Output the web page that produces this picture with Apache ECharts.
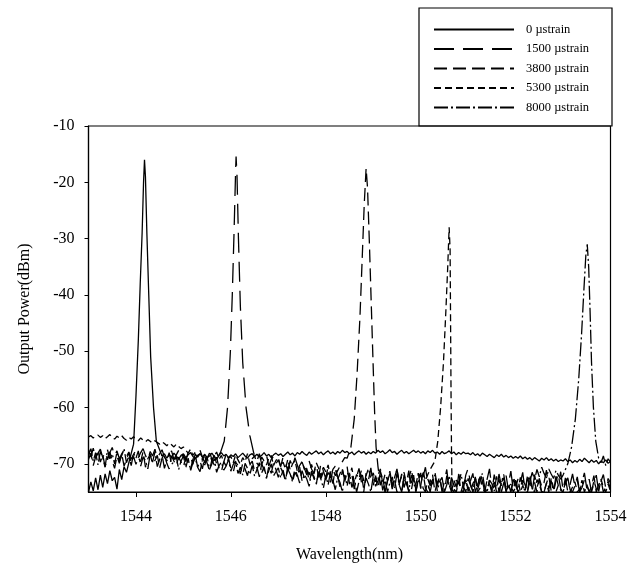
<!DOCTYPE html>
<html>
<head>
<meta charset="utf-8">
<style>
  html, body { margin: 0; padding: 0; width: 100%; height: 100%; overflow: hidden; background: #fff; }
</style>
<script src="https://cdn.jsdelivr.net/npm/echarts@6/dist/echarts.min.js"></script>
</head>
<body>
<div id="container" style="width:644px;height:565px;"></div>
<script>
// wavelength grid of the noise floor: 1543 .. 1554 nm, one value every 0.05 nm
const wlStart = 1543;
const wlStep = 0.05;

const names = ['0 \u00b5strain', '1500 \u00b5strain', '3800 \u00b5strain', '5300 \u00b5strain', '8000 \u00b5strain'];
const xTicks = [1544, 1546, 1548, 1550, 1552, 1554];
const yTicks = [-70, -60, -50, -40, -30, -20, -10];

// noise floors (dBm), 20 values per nm
const floor0 = [
  -75, -73.2, -74.8, -72.5, -74.6, -72.0, -74.2, -71.8, -73.5, -71.2, -73.0, -72.4, -74.5, -71.0, -72.8, -70.5, -71.5, -69.8, -70.2, -69.0,
  -68.5, -68.2, -68.0, -68.3, -68.0, -68.4, -68.0, -67.6, -68.2, -68.8, -68.0, -68.6, -68.2, -69.0, -68.4, -68.8, -68.1, -68.6, -69.2, -68.5,
  -68.2, -68.9, -68.4, -68.0, -68.7, -69.1, -68.5, -68.2, -68.8, -68.3, -68.9, -68.6, -68.1, -68.7, -69.2, -68.5, -68.0, -68.6, -68.3, -68.9,
  -68.4, -68.7, -68.2, -68.9, -68.5, -68.1, -68.6, -69.0, -68.4, -68.2, -68.7, -68.3, -68.8, -68.5, -68.0, -68.6, -68.3, -68.9, -68.4, -68.1,
  -68.5, -68.2, -68.7, -68.3, -67.9, -68.4, -68.1, -68.6, -68.0, -68.3, -67.8, -68.2, -68.5, -67.9, -68.3, -68.0, -67.7, -68.2, -67.9, -68.4,
  -68.0, -67.7, -68.2, -67.9, -68.3, -67.8, -68.1, -67.6, -68.0, -67.8, -68.2, -67.9, -68.4, -68.0, -67.7, -68.1, -67.8, -68.3, -67.9, -68.2,
  -67.8, -68.1, -67.6, -68.0, -67.7, -68.2, -67.9, -67.5, -68.0, -67.8, -68.3, -67.9, -67.6, -68.1, -67.8, -68.2, -67.9, -67.6, -68.0, -67.7,
  -68.1, -67.8, -68.2, -67.7, -68.0, -67.6, -68.1, -67.9, -68.3, -67.8, -68.2, -68.0, -67.7, -68.2, -67.9, -68.4, -68.0, -68.3, -67.9, -68.2,
  -68.1, -68.4, -68.0, -68.5, -68.2, -68.6, -68.1, -68.4, -68.7, -68.3, -68.6, -68.9, -68.4, -68.7, -68.3, -68.8, -68.5, -68.9, -68.6, -69.0,
  -68.7, -69.0, -68.6, -69.1, -68.8, -69.2, -68.9, -69.3, -68.9, -69.2, -69.5, -69.0, -69.3, -68.9, -69.4, -69.1, -69.5, -69.2, -69.6, -69.3,
  -69.5, -69.1, -69.6, -69.3, -69.8, -69.4, -69.7, -69.2, -69.6, -69.0, -69.4, -69.8, -69.3, -69.7, -69.4, -70.0, -69.5, -69.8, -69.3, -69.9,
  -69.6
];
const floor1 = [
  -67.5, -68.8, -67.2, -69.0, -68.1, -67.4, -68.9, -67.8, -69.3, -68.0, -67.1, -68.6, -67.7, -69.1, -68.2, -67.5, -68.7, -67.9, -69.2, -68.3,
  -67.6, -68.9, -68.0, -67.3, -68.5, -69.4, -67.8, -68.6, -67.4, -69.0, -68.2, -67.5, -68.8, -69.5, -68.1, -67.7, -69.2, -68.4, -67.6, -68.9,
  -68.3, -69.6, -67.9, -68.7, -70.1, -68.2, -69.0, -67.6, -68.8, -69.8, -68.1, -67.7, -69.3, -68.5, -70.0, -68.4, -67.8, -68.9, -68.0, -68.5,
  -68.2, -68.0, -67.8, -68.1, -67.9, -68.0, -68.2, -67.9, -68.1, -68.0, -68.6, -69.5, -68.2, -70.1, -69.0, -68.4, -70.4, -69.2, -68.7, -70.0,
  -69.3, -70.5, -68.8, -69.9, -71.2, -69.4, -70.6, -68.9, -70.2, -71.5, -69.7, -70.8, -72.0, -69.5, -70.9, -71.8, -70.1, -72.4, -69.8, -71.3,
  -72.6, -70.4, -71.7, -73.5, -70.9, -72.2, -74.1, -71.0, -72.8, -70.5, -73.6, -71.9, -74.5, -72.3, -70.8, -73.2, -75.0, -71.6, -72.9, -70.7,
  -73.8, -72.1, -74.6, -71.3, -72.7, -75.0, -73.0, -71.5, -74.2, -72.5, -70.9, -73.7, -75.0, -72.0, -73.4, -71.2, -74.8, -72.6, -73.9, -71.7,
  -74.4, -72.3, -70.6, -73.5, -75.0, -72.8, -71.4, -74.0, -72.2, -75.0, -73.1, -71.0, -74.7, -72.4, -73.8, -75.0, -71.9, -73.3, -74.5, -72.0,
  -70.8, -73.6, -75.0, -72.5, -74.1, -71.6, -73.0, -75.0, -72.7, -70.9, -74.3, -73.2, -75.0, -71.8, -73.9, -72.4, -75.0, -73.5, -71.3, -74.6,
  -72.9, -75.0, -73.4, -71.5, -74.8, -72.6, -73.7, -75.0, -71.9, -74.2, -72.8, -75.0, -73.3, -71.1, -74.5, -73.0, -75.0, -72.2, -73.8, -71.4,
  -74.7, -72.5, -75.0, -73.6, -71.8, -74.0, -72.9, -75.0, -73.2, -71.6, -74.4, -72.7, -75.0, -73.5, -72.0, -74.9, -73.1, -71.9, -74.3, -72.6,
  -73.4
];
const floor2 = [
  -69.2, -68.1, -70.3, -68.8, -67.6, -69.7, -68.4, -70.5, -69.0, -67.9, -69.5, -70.8, -68.6, -69.9, -68.2, -70.4, -69.3, -68.0, -69.8, -68.7,
  -70.1, -68.9, -69.6, -67.8, -70.6, -69.1, -68.3, -70.0, -69.4, -68.5, -70.7, -69.0, -68.2, -69.9, -70.9, -68.6, -69.5, -70.3, -68.8, -69.7,
  -70.5, -68.9, -69.8, -71.0, -69.2, -68.4, -70.6, -69.5, -70.9, -68.7, -69.9, -71.2, -69.3, -70.2, -68.8, -70.7, -71.4, -69.6, -70.4, -69.0,
  -70.8, -71.5, -69.7, -70.3, -71.8, -69.9, -70.9, -72.1, -70.2, -69.5, -71.3, -70.6, -72.3, -70.0, -71.1, -72.6, -70.4, -71.7, -69.8, -71.0,
  -72.4, -70.7, -71.6, -73.0, -70.5, -71.9, -72.8, -70.9, -72.0, -73.4, -71.2, -72.5, -70.8, -73.1, -71.7, -72.2, -73.7, -71.0, -72.6, -71.4,
  -72.9, -71.5, -73.3, -70.9, -72.1, -71.2, -70.4, -69.6, -68.9, -68.4, -68.0, -68.0, -68.0, -68.0, -68.0, -68.0, -68.0, -68.0, -68.0, -68.0,
  -68.0, -68.0, -71.5, -73.8, -72.4, -75.0, -73.1, -71.7, -74.5, -72.9, -75.0, -73.6, -71.8, -74.2, -72.6, -75.0, -73.4, -72.0, -74.8, -73.0,
  -71.6, -74.3, -75.0, -72.7, -73.9, -71.9, -75.0, -73.3, -72.4, -74.6, -75.0, -72.1, -73.7, -75.0, -72.9, -74.1, -71.8, -75.0, -73.5, -72.6,
  -74.9, -73.0, -71.7, -75.0, -73.8, -72.3, -74.4, -75.0, -72.8, -73.6, -75.0, -71.9, -74.0, -72.7, -75.0, -73.4, -72.1, -74.7, -75.0, -73.1,
  -72.4, -75.0, -74.1, -72.9, -73.7, -75.0, -71.8, -74.5, -73.3, -75.0, -72.6, -74.0, -75.0, -73.5, -72.2, -74.8, -75.0, -73.0, -71.9, -74.4,
  -75.0, -73.2, -72.5, -74.6, -75.0, -73.9, -72.3, -75.0, -74.2, -72.8, -73.6, -75.0, -74.0, -72.1, -75.0, -73.7, -72.9, -75.0, -74.3, -73.1,
  -74.5
];
const floor3 = [
  -65.2, -65.0, -65.4, -65.1, -64.9, -65.3, -65.0, -65.5, -65.2, -64.8, -65.3, -65.6, -65.1, -65.4, -65.0, -65.5, -65.8, -65.3, -65.6, -65.2,
  -65.6, -65.9, -65.4, -65.8, -66.1, -65.7, -66.0, -66.3, -65.9, -66.2, -66.5, -66.1, -66.4, -66.8, -66.3, -66.6, -67.0, -66.5, -66.9, -67.3,
  -67.0, -67.6, -68.1, -67.4, -68.5, -67.9, -68.8, -68.2, -69.3, -68.4, -69.0, -68.1, -69.5, -68.6, -67.9, -69.2, -68.5, -69.7, -68.3, -69.0,
  -68.7, -69.8, -68.4, -69.3, -70.1, -68.9, -69.6, -68.2, -70.0, -69.1, -68.6, -69.9, -70.4, -68.8, -69.5, -70.2, -69.0, -68.5, -70.3, -69.4,
  -68.9, -70.5, -69.7, -70.9, -69.2, -71.1, -70.0, -69.4, -71.3, -70.3, -69.6, -71.0, -70.7, -72.0, -70.1, -71.5, -69.8, -70.8, -72.2, -70.6,
  -71.4, -70.2, -72.5, -71.0, -70.4, -72.8, -71.7, -70.9, -73.1, -71.5, -72.3, -70.7, -73.4, -71.9, -72.6, -71.2, -73.0, -72.1, -70.8, -72.7,
  -71.6, -73.2, -72.0, -70.9, -73.5, -71.8, -72.9, -71.3, -73.7, -72.4, -71.0, -73.3, -72.2, -71.5, -73.8, -72.5, -71.1, -72.8, -73.6, -71.7,
  -72.3, -71.4, -73.0, -71.9, -71.0, -70.6, -70.0, -69.6, -69.0, -68.0, -68.0, -68.0, -68.0, -68.0, -74.0, -75.0, -73.2, -74.6, -75.0, -72.8,
  -74.1, -75.0, -73.5, -72.6, -75.0, -74.3, -73.0, -75.0, -74.7, -72.9, -75.0, -73.8, -74.5, -75.0, -73.3, -72.5, -75.0, -74.0, -73.6, -75.0,
  -74.2, -72.7, -75.0, -73.9, -74.6, -75.0, -73.1, -74.4, -75.0, -72.8, -73.7, -75.0, -74.9, -73.4, -75.0, -72.6, -74.3, -75.0, -73.8, -74.7,
  -75.0, -73.5, -72.4, -75.0, -74.1, -73.2, -75.0, -74.5, -72.9, -75.0, -73.9, -74.8, -75.0, -73.0, -74.4, -75.0, -72.7, -74.2, -75.0, -73.6,
  -74.9
];
const floor4 = [
  -68.4, -67.3, -69.5, -68.0, -70.2, -67.8, -68.9, -70.6, -67.5, -69.1, -68.2, -70.0, -67.9, -69.6, -68.5, -67.4, -69.8, -68.6, -70.3, -68.1,
  -69.0, -67.7, -70.4, -68.8, -69.4, -70.9, -68.3, -69.7, -67.9, -70.5, -69.2, -68.4, -70.8, -69.3, -68.0, -70.1, -69.6, -68.7, -71.0, -69.5,
  -68.6, -70.7, -69.0, -71.2, -69.8, -68.9, -70.6, -71.4, -69.4, -70.2, -68.8, -71.0, -70.0, -69.1, -71.5, -70.3, -69.7, -71.1, -70.4, -69.3,
  -71.3, -70.1, -69.5, -71.7, -70.6, -72.0, -69.9, -70.8, -71.9, -70.3, -72.2, -71.0, -69.8, -71.6, -70.5, -72.4, -71.2, -70.0, -72.1, -71.4,
  -70.7, -72.5, -71.1, -72.9, -70.9, -71.8, -73.2, -71.5, -72.3, -70.6, -73.0, -71.9, -72.7, -74.0, -71.3, -72.6, -73.5, -71.7, -72.8, -74.3,
  -72.1, -73.7, -71.4, -72.9, -74.6, -72.4, -73.3, -75.0, -72.0, -73.9, -71.6, -74.2, -72.8, -75.0, -73.1, -71.9, -74.5, -72.5, -73.6, -75.0,
  -72.2, -74.0, -73.0, -71.8, -74.7, -72.9, -75.0, -73.4, -72.3, -74.4, -71.7, -73.8, -75.0, -72.6, -73.5, -74.9, -72.0, -73.2, -75.0, -72.7,
  -73.9, -71.5, -74.3, -75.0, -72.8, -73.6, -71.9, -74.8, -73.1, -72.4, -75.0, -73.7, -72.1, -74.5, -75.0, -72.9, -73.4, -71.8, -74.1, -75.0,
  -72.6, -73.8, -75.0, -72.3, -74.6, -73.0, -71.7, -74.2, -75.0, -72.9, -73.5, -74.8, -72.2, -75.0, -73.3, -71.9, -74.4, -73.6, -75.0, -72.5,
  -73.8, -74.9, -72.4, -73.6, -75.0, -72.1, -73.2, -71.5, -72.8, -71.0, -72.3, -70.6, -71.7, -72.5, -70.9, -71.8, -72.6, -71.2, -72.0, -72.7,
  -72.0, -72.0, -72.0, -72.0, -72.0, -72.0, -72.0, -72.0, -72.0, -72.0, -72.0, -72.0, -72.0, -72.0, -72.0, -72.0, -69.8, -68.6, -70.3, -69.1,
  -69.7
];

// reflection peaks: [wavelength nm, power dBm]
const peak0 = [[1543.88, -69.5], [1543.95, -66.5], [1544.0, -58], [1544.05, -48], [1544.09, -38], [1544.13, -29], [1544.16, -20], [1544.18, -16],
  [1544.2, -19], [1544.23, -29], [1544.27, -40], [1544.31, -51], [1544.37, -60], [1544.43, -66], [1544.52, -68]];
const peak1 = [[1545.78, -68], [1545.86, -66], [1545.93, -60], [1545.99, -50], [1546.03, -40], [1546.07, -28], [1546.1, -18], [1546.11, -15.4],
  [1546.13, -19], [1546.16, -30], [1546.2, -42], [1546.25, -52], [1546.32, -60], [1546.4, -65], [1546.48, -68]];
const peak2 = [[1548.45, -69], [1548.53, -67], [1548.6, -62], [1548.66, -54], [1548.72, -44], [1548.77, -33], [1548.81, -24], [1548.85, -17.5],
  [1548.88, -21], [1548.92, -31], [1548.96, -42], [1549.0, -53], [1549.03, -61], [1549.06, -67], [1549.1, -70.5]];
const peak3 = [[1550.2, -71], [1550.3, -69.5], [1550.36, -66], [1550.42, -60], [1550.48, -52], [1550.53, -43], [1550.57, -35], [1550.6, -28],
  [1550.62, -32], [1550.63, -45], [1550.64, -58], [1550.65, -68], [1550.66, -74]];
const peak4 = [[1553.0, -72], [1553.1, -70], [1553.18, -67], [1553.26, -62], [1553.33, -55], [1553.39, -47], [1553.44, -39], [1553.48, -33],
  [1553.51, -31], [1553.54, -35], [1553.57, -43], [1553.6, -52], [1553.64, -60], [1553.69, -66], [1553.75, -69]];

const floors = [floor0, floor1, floor2, floor3, floor4];
const peaks = [peak0, peak1, peak2, peak3, peak4];
const dashes = ['solid', [20, 9], [13, 6], [7, 4], [14, 3, 2, 3]];

// floor points outside the peak range + the peak points
function buildSpectrum(floor, peak) {
  const lo = peak[0][0], hi = peak[peak.length - 1][0];
  const pts = [];
  floor.forEach((v, i) => {
    const x = +(wlStart + i * wlStep).toFixed(2);
    if (x < lo - 1e-6 || x > hi + 1e-6) pts.push([x, v]);
  });
  peak.forEach(p => pts.push(p));
  pts.sort((a, b) => a[0] - b[0]);
  return pts;
}

const font = 'Liberation Serif';

var myChart = echarts.init(document.getElementById('container'), null, { renderer: 'canvas' });

var option = {
  animation: false,
  backgroundColor: '#fff',
  grid: {
    left: 88.5, right: 33.5, top: 126, bottom: 73,
    outerBoundsMode: 'none',
    show: true, borderColor: '#000', borderWidth: 1.2
  },
  legend: {
    orient: 'vertical',
    left: 428,
    top: 18,
    itemWidth: 80,
    itemHeight: 14,
    itemGap: 6.5,
    selectedMode: false,
    data: names,
    itemStyle: { opacity: 0 },
    textStyle: { fontFamily: font, fontSize: 12.5, color: '#000', padding: [0, 0, 0, 7] }
  },
  graphic: [{
    type: 'rect',
    shape: { x: 419, y: 8, width: 193, height: 118 },
    style: { fill: 'none', stroke: '#000', lineWidth: 1.2 },
    z: 100
  }],
  xAxis: {
    type: 'value',
    min: 1543, max: 1554, interval: 1,
    name: 'Wavelength(nm)',
    nameLocation: 'middle',
    nameGap: 55,
    nameTextStyle: { fontFamily: font, fontSize: 16, color: '#000' },
    axisLine: { lineStyle: { color: '#000', width: 1.2 } },
    axisTick: { show: true, length: 5, customValues: xTicks, lineStyle: { color: '#000' } },
    axisLabel: { customValues: xTicks, margin: 17, fontFamily: font, fontSize: 16, color: '#000', formatter: v => String(v) },
    splitLine: { show: false }
  },
  yAxis: {
    type: 'value',
    min: -75, max: -10, interval: 5,
    name: 'Output Power(dBm)',
    nameLocation: 'middle',
    nameRotate: 90,
    nameGap: 56,
    nameTextStyle: { fontFamily: font, fontSize: 16, color: '#000' },
    axisLine: { show: true, lineStyle: { color: '#000', width: 1.2 } },
    axisTick: { show: true, length: 4, customValues: yTicks, lineStyle: { color: '#000' } },
    axisLabel: { customValues: yTicks, margin: 14, fontFamily: font, fontSize: 16, color: '#000', formatter: v => String(v) },
    splitLine: { show: false }
  },
  series: names.map((n, k) => ({
    name: n,
    type: 'line',
    symbol: 'none',
    clip: true,
    data: buildSpectrum(floors[k], peaks[k]),
    lineStyle: { color: '#000', width: 1.3, type: dashes[k] },
    itemStyle: { color: '#000' },
    z: 5 - k
  }))
};

myChart.setOption(option);
</script>
</body>
</html>
